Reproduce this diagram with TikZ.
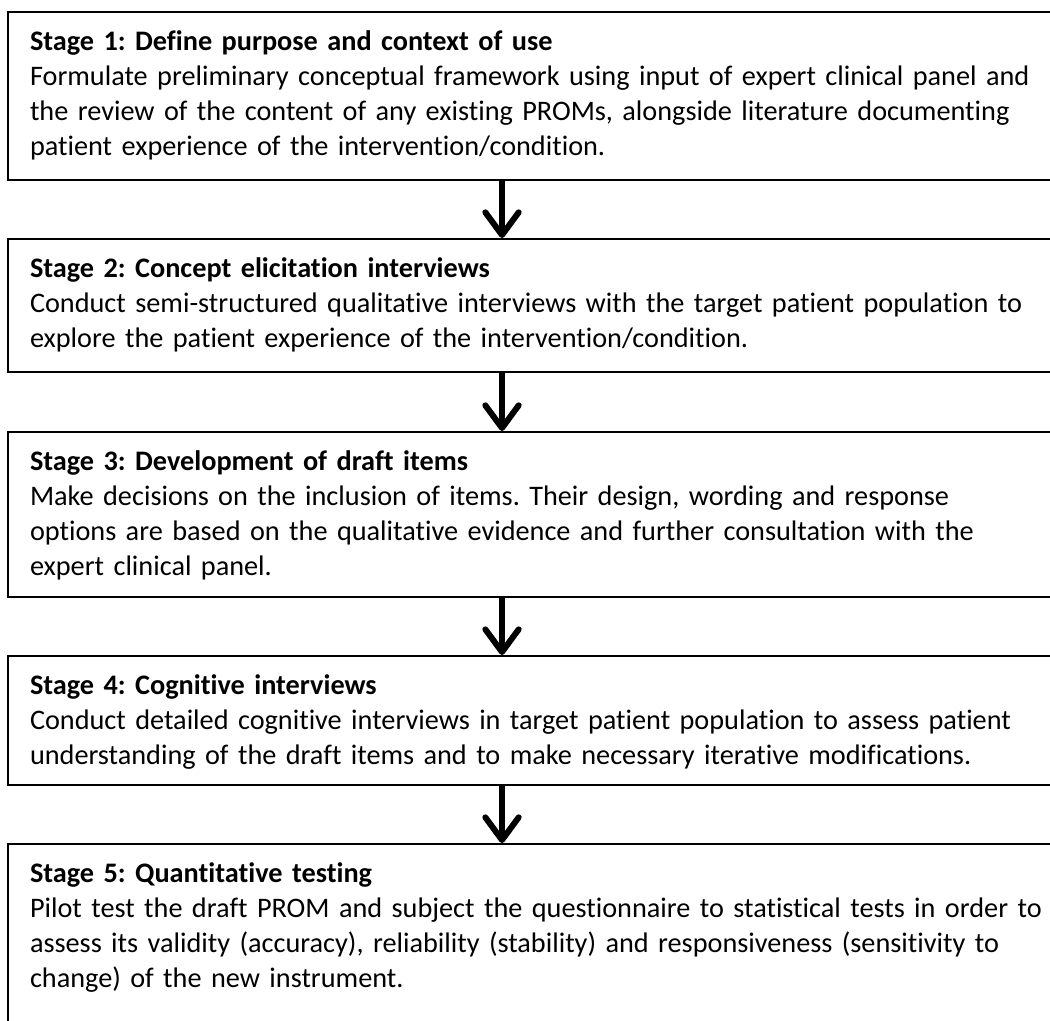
\documentclass[tikz,border=0pt]{standalone}
\usepackage{fontspec}
\setmainfont{Carlito}[Ligatures={NoCommon,NoContextual}]
\usetikzlibrary{arrows.meta}
\frenchspacing

\tikzset{
  stagebox/.style={draw, line width=1.5pt, anchor=north west, align=left,
    inner xsep=16.5pt, inner ysep=0pt, text width=772.5pt, text height=28.5pt,
    font=\fontsize{21.2pt}{26.25pt}\selectfont},
  flowarrow/.style={line width=4.5pt, -{Straight Barb[length=17pt,width=25pt,round]}}
}

\begin{document}
\begin{tikzpicture}[x=0.75pt,y=-0.75pt]
\useasboundingbox (0,0) rectangle (1050,1021);

\node[stagebox, text depth=97.5pt] (s1) at (7,11)
  {\textbf{Stage 1: Define purpose and context of use}\\
   Formulate preliminary conceptual framework using input of expert clinical panel and\\
   the review of the content of any existing PROMs, alongside literature documenting\\
   patient experience of the intervention/condition.};
\node[stagebox, text depth=71.25pt] (s2) at (7,238)
  {\textbf{Stage 2: Concept elicitation interviews}\\
   Conduct semi-structured qualitative interviews with the target patient population to\\
   explore the patient experience of the intervention/condition.};
\node[stagebox, text depth=95.25pt] (s3) at (7,431)
  {\textbf{Stage 3: Development of draft items}\\
   Make decisions on the inclusion of items. Their design, wording and response\\
   options are based on the qualitative evidence and further consultation with the\\
   expert clinical panel.};
\node[stagebox, text depth=68.25pt] (s4) at (7,655)
  {\textbf{Stage 4: Cognitive interviews}\\
   Conduct detailed cognitive interviews in target patient population to assess patient\\
   understanding of the draft items and to make necessary iterative modifications.};
\node[stagebox, text depth=142.5pt] (s5) at (7,843)
  {\textbf{Stage 5: Quantitative testing}\\
   Pilot test the draft PROM and subject the questionnaire to statistical tests in order to\\
   assess its validity (accuracy), reliability (stability) and responsiveness (sensitivity to\\
   change) of the new instrument.};

\coordinate (axis) at (502,0);
\draw[flowarrow] (s1.south -| axis) -- (s2.north -| axis);
\draw[flowarrow] (s2.south -| axis) -- (s3.north -| axis);
\draw[flowarrow] (s3.south -| axis) -- (s4.north -| axis);
\draw[flowarrow] (s4.south -| axis) -- (s5.north -| axis);
\end{tikzpicture}
\end{document}
